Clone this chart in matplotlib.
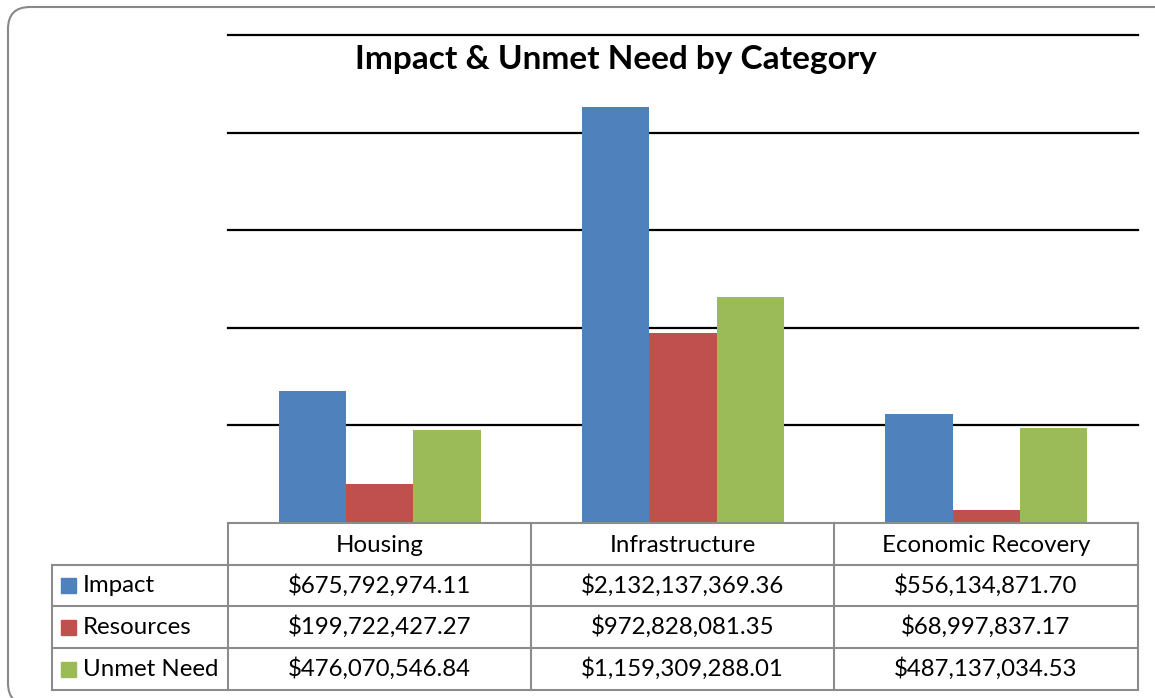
import matplotlib.pyplot as plt
from matplotlib.patches import FancyBboxPatch, Rectangle
import numpy as np

categories = ["Housing", "Infrastructure", "Economic Recovery"]
series = ["Impact", "Resources", "Unmet Need"]
impact = [675792974.11, 2132137369.36, 556134871.70]
resources = [199722427.27, 972828081.35, 68997837.17]
unmet = [476070546.84, 1159309288.01, 487137034.53]
colors = ["#4F81BD", "#C0504D", "#9BBB59"]

plt.rcParams['font.family'] = ['Lato', 'DejaVu Sans']

W, H = 1155, 698
fig = plt.figure(figsize=(W / 100, H / 100), dpi=100)

def px(x0, y0, x1, y1):
    # pixel box (top-left origin) -> figure fraction
    return [x0 / W, 1 - y1 / H, (x1 - x0) / W, (y1 - y0) / H]

# rounded chart border
bg = fig.add_axes([0, 0, 1, 1])
bg.set_xlim(0, W)
bg.set_ylim(H, 0)
bg.axis('off')
bg.add_patch(FancyBboxPatch((8, 7), W + 20, H, boxstyle="round,pad=0,rounding_size=22",
                            fc='white', ec='#888888', lw=1.5))

# bar plot
ax = fig.add_axes(px(228, 35, 1138, 523))
x = np.arange(len(categories))
bw = 0.222
for i, vals in enumerate([impact, resources, unmet]):
    ax.bar(x + (i - 1) * bw, vals, bw, color=colors[i], zorder=3)
ax.set_xlim(-0.5, 2.5)
ax.set_ylim(0, 2.5e9)
for yv in np.arange(5e8, 2.6e9, 5e8):
    ax.axhline(yv, color='black', lw=1.6, zorder=1, clip_on=False)
for s in ax.spines.values():
    s.set_visible(False)
ax.set_xticks([])
ax.set_yticks([])
ax.patch.set_alpha(0)

fig.text(616 / W, 1 - 59 / H, "Impact & Unmet Need by Category", ha='center', va='center',
         fontsize=24, fontweight='bold')

# data table
gc = '#8c8c8c'
tl = fig.add_axes([0, 0, 1, 1])
tl.set_xlim(0, W)
tl.set_ylim(H, 0)
tl.axis('off')
tl.patch.set_alpha(0)
col_x = [228, 531, 834, 1138]
row_y = [523, 565, 606, 648, 690]
left = 52
# horizontal lines
tl.plot([228, 1138], [523, 523], color=gc, lw=1.5)
for yy in row_y[1:]:
    tl.plot([left, 1138], [yy, yy], color=gc, lw=1.5)
# vertical lines
tl.plot([left, left], [565, 690], color=gc, lw=1.5)
for xx in col_x:
    tl.plot([xx, xx], [523, 690], color=gc, lw=1.5)

fs = 17.3
for j, c in enumerate(categories):
    tl.text((col_x[j] + col_x[j + 1]) / 2, 545, c, ha='center', va='center', fontsize=fs)
for i, (name, vals) in enumerate(zip(series, [impact, resources, unmet])):
    yc = (row_y[i + 1] + row_y[i + 2]) / 2
    tl.add_patch(Rectangle((61, yc - 7.5), 15, 15, color=colors[i]))
    tl.text(83, yc, name, ha='left', va='center', fontsize=fs)
    for j, v in enumerate(vals):
        tl.text((col_x[j] + col_x[j + 1]) / 2, yc, f"${v:,.2f}", ha='center', va='center', fontsize=fs)

fig.savefig('out.png', dpi=100)
